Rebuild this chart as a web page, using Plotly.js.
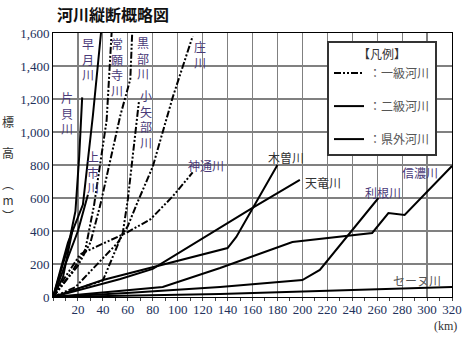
<!DOCTYPE html>
<html>
<head>
<meta charset="utf-8">
<script src="https://cdn.plot.ly/plotly-3.0.1.min.js"></script>
<style>html,body{margin:0;padding:0;background:#fff;}#chart{width:474px;height:356px;}</style>
</head>
<body>
<div id="chart"></div>
<script>
// ---- data (km from mouth, elevation m) ----
// 一級河川
const kurobeKm = [0, 20, 30, 38, 54, 62, 63.5];
const kurobeEl = [0, 190, 330, 560, 1100, 1320, 1600];
const joganjiKm = [0, 15, 26, 33, 43, 47];
const joganjiEl = [0, 150, 290, 560, 1070, 1600];
const oyabeKm = [0, 40, 56, 60, 69];
const oyabeEl = [0, 100, 390, 590, 1190];
const shoKm = [0, 18, 52, 60, 67, 80, 96, 112];
const shoEl = [0, 60, 330, 430, 560, 790, 1210, 1580];
const jinzuKm = [0, 8, 22, 59, 78, 96, 112];
const jinzuEl = [0, 100, 260, 390, 470, 610, 755];
// 二級河川
const katakaiKm = [0, 12, 18, 21, 23.4];
const katakaiEl = [0, 300, 520, 850, 1210];
const hayatsukiKm = [0, 12, 24, 32, 38.5];
const hayatsukiEl = [0, 330, 560, 1100, 1600];
const kamiichiKm = [0, 10, 20, 28];
const kamiichiEl = [0, 200, 400, 620];
const otherAKm = [0, 8, 16];
const otherAEl = [0, 120, 420];
// 県外河川
const kisoKm = [0, 40, 140, 147, 180];
const kisoEl = [0, 103, 297, 364, 800];
const tenryuKm = [0, 54, 80, 160, 198];
const tenryuEl = [0, 109, 170, 540, 710];
const toneKm = [0, 59, 134, 200, 214, 261];
const toneEl = [0, 24, 61, 103, 164, 600];
const shinanoKm = [0, 88, 134, 192, 256, 269, 282, 320];
const shinanoEl = [0, 61, 176, 333, 388, 509, 497, 794];
const seineKm = [0, 134, 320];
const seineEl = [0, 18, 61];

const xTicks = [20,40,60,80,100,120,140,160,180,200,220,240,260,280,300,320];
const yTicks = [0,200,400,600,800,1000,1200,1400,1600];
const legendNames = ['：一級河川', '：二級河川', '：県外河川'];

const DASH1 = '7px,2px,2px,2px,2px,2px';
function tr(x, y, cls, legendName) {
  const t = {
    x: x, y: y, type: 'scatter', mode: 'lines',
    line: {color: '#000', width: 2, dash: cls === 1 ? DASH1 : 'solid'},
    hoverinfo: 'skip', showlegend: !!legendName, cliponaxis: true
  };
  if (legendName) { t.name = legendName; t.legendgroup = 'g' + cls; }
  return t;
}

const traces = [
  tr(kurobeKm, kurobeEl, 1, legendNames[0]),
  tr(joganjiKm, joganjiEl, 1),
  tr(oyabeKm, oyabeEl, 1),
  tr(shoKm, shoEl, 1),
  tr(jinzuKm, jinzuEl, 1),
  tr(katakaiKm, katakaiEl, 2, legendNames[1]),
  tr(hayatsukiKm, hayatsukiEl, 2),
  tr(kamiichiKm, kamiichiEl, 2),
  tr(otherAKm, otherAEl, 2),
  tr(kisoKm, kisoEl, 3, legendNames[2]),
  tr(tenryuKm, tenryuEl, 3),
  tr(toneKm, toneEl, 3),
  tr(shinanoKm, shinanoEl, 3),
  tr(seineKm, seineEl, 3)
];

const LABC = '#4a3a78';
const JP = '"Noto Sans CJK JP", sans-serif';
function lab(text, x, y, color) {
  return {text: text, x: x, y: y, xref: 'x', yref: 'y', showarrow: false,
    font: {family: JP, size: 12, color: color || LABC}, xanchor: 'center', yanchor: 'middle', align: 'center'};
}
const annotations = [
  lab('早<br>月<br>川', 28, 1445),
  lab('常<br>願<br>寺<br>川', 51.3, 1394),
  lab('黒<br>部<br>川', 72, 1448),
  lab('小<br>矢<br>部<br>川', 74.6, 1079),
  lab('庄<br>川', 118, 1467),
  lab('片<br>貝<br>川', 11, 1115),
  lab('上<br>市<br>川', 32, 758),
  lab('神通川', 123, 800),
  lab('木曽川', 187, 848, '#333'),
  lab('天竜川', 216.5, 691, '#333'),
  lab('利根川', 265, 636),
  lab('信濃川', 294, 752),
  lab('セーヌ川', 292, 103, '#555'),
  {text: '(km)', xref: 'paper', yref: 'paper', x: (445 - 53) / 399, y: (297 - 326) / 264,
   xanchor: 'center', yanchor: 'middle', showarrow: false,
   font: {family: '"Liberation Serif", serif', size: 12, color: '#333'}},
  {text: '標<br><br>高<br><br>︵<br>m<br>︶', xref: 'paper', yref: 'paper',
   x: (8 - 53) / 399, y: (297 - 168) / 264,
   showarrow: false, xanchor: 'center', yanchor: 'middle',
   font: {family: JP, size: 12, color: '#333'}}
];

const layout = {
  width: 474, height: 356,
  margin: {l: 53, r: 22, t: 33, b: 59, pad: 0},
  paper_bgcolor: '#fff', plot_bgcolor: '#fff',
  title: {text: '<b>河川縦断概略図</b>', x: 57 / 474, xanchor: 'left', xref: 'container',
    y: 1 - 15 / 356, yanchor: 'middle', yref: 'container',
    font: {family: JP, size: 16, color: '#111'}},
  xaxis: {range: [0, 320], tickvals: xTicks, ticktext: xTicks.map(String),
    showgrid: true, gridcolor: '#808080', gridwidth: 1.2,
    showline: true, linecolor: '#000', linewidth: 1, mirror: true,
    zeroline: false, ticks: '', ticklen: 0,
    minor: {dtick: 10, tick0: 0, ticks: 'outside', ticklen: 3, tickcolor: '#444', showgrid: false},
    tickfont: {family: '"Liberation Serif", serif', size: 13, color: '#22305a'}},
  yaxis: {range: [0, 1600], tickvals: yTicks, ticktext: yTicks.map(v => v.toLocaleString('en-US')),
    showgrid: true, gridcolor: '#808080', gridwidth: 2,
    showline: true, linecolor: '#000', linewidth: 1, mirror: true,
    zeroline: false, ticks: '', ticklen: 0,
    tickfont: {family: '"Liberation Serif", serif', size: 13, color: '#22305a'}},
  showlegend: true,
  legend: {x: (327 - 53) / 399, y: (297 - 41) / 264, xanchor: 'left', yanchor: 'top',
    bgcolor: '#fff', bordercolor: '#333', borderwidth: 2,
    traceorder: 'grouped', tracegroupgap: 14, itemwidth: 30,
    title: {text: '【凡例】', side: 'top center', font: {family: JP, size: 12, color: '#333'}},
    font: {family: JP, size: 12, color: '#555'}},
  annotations: annotations
};

Plotly.newPlot('chart', traces, layout, {displayModeBar: false, staticPlot: true});
</script>
</body>
</html>
